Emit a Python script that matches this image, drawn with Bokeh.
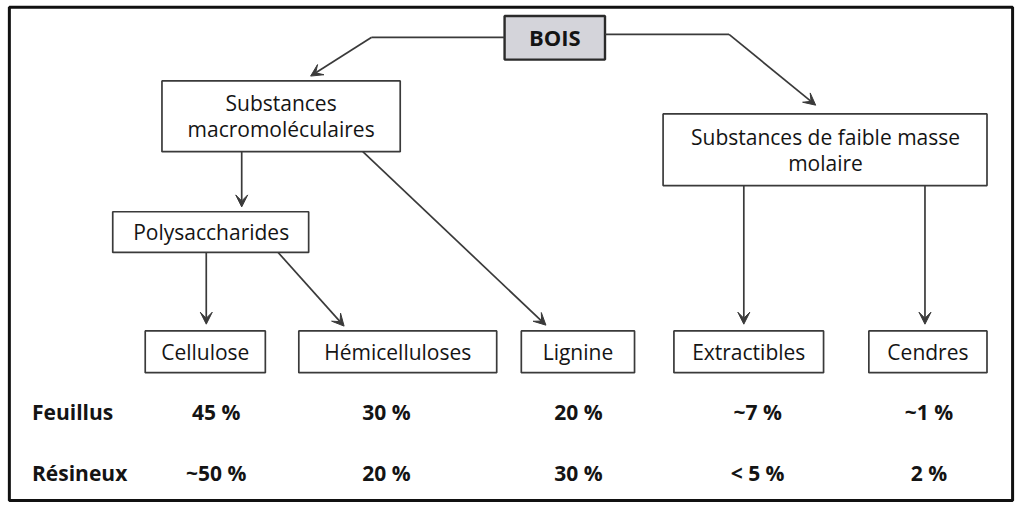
from bokeh.plotting import figure
from bokeh.models import Range1d, Arrow, VeeHead
from bokeh.core.properties import value
from bokeh.embed import file_html
from bokeh.resources import INLINE

# ---- data (diagram content) ----
root_label = "BOIS"
level1_labels = ["Substances\nmacromoléculaires", "Substances de faible masse\nmolaire"]
poly_label = "Polysaccharides"
components = ["Cellulose", "Hémicelluloses", "Lignine", "Extractibles", "Cendres"]
row_labels = ["Feuillus", "Résineux"]
feuillus = ["45 %", "30 %", "20 %", "~7 %", "~1 %"]
resineux = ["~50 %", "20 %", "30 %", "< 5 %", "2 %"]

# ---- layout (reference pixel coordinates) ----
W, H = 1018, 502
p = figure(width=W, height=H, output_backend="svg", toolbar_location=None,
           x_range=Range1d(0, 1034), y_range=Range1d(518, 0),
           min_border=0, background_fill_color="white", border_fill_color="white")
p.axis.visible = False
p.grid.visible = False
p.outline_line_color = None

FONT = value("Open Sans")
LC = "#3a3a3a"
TC = "#141414"

def box(l, r, t, b, fill="white", lw=1.7, lc=LC):
    p.quad(left=[l], right=[r], top=[t], bottom=[b], fill_color=fill,
           line_color=lc, line_width=lw)

def label(x, y, txt, size="21px", bold=False, align="center", gap=27):
    lines = txt.split("\n")
    n = len(lines)
    for i, ln in enumerate(lines):
        yy = y + (i - (n - 1) / 2) * gap
        p.text(x=[x], y=[yy], text=[ln], text_font=FONT, text_font_size=size,
               text_font_style="bold" if bold else "normal", text_color=TC,
               text_align=align, text_baseline="middle")

def seg(x0, y0, x1, y1):
    p.segment(x0=[x0], y0=[y0], x1=[x1], y1=[y1], line_color=LC, line_width=1.7)

def arrow(x0, y0, x1, y1):
    p.add_layout(Arrow(x_start=x0, y_start=y0, x_end=x1, y_end=y1,
                       line_color=LC, line_width=1.7,
                       end=VeeHead(size=12, line_color=LC, fill_color=LC, line_width=1)))

# outer frame
box(9, 1028, 7, 516, fill=None, lw=3, lc="#111111")

# root box
box(512, 614, 16, 61, fill="#d4d4da", lw=2.4, lc="#2a2a2a")
label(563, 38, root_label, size="22px", bold=True)

# root connectors
seg(512, 38, 377, 38)
arrow(377, 38, 315, 78)
seg(614, 35, 740, 35)
arrow(740, 35, 828, 108)

# level-1 boxes
box(164, 406, 83, 156)
label(285, 119, level1_labels[0])
box(673, 1002, 117, 191)
label(838, 154, level1_labels[1])

# polysaccharides
arrow(245, 156, 245, 213)
box(114, 313, 218, 260)
label(214, 239, poly_label)

# component boxes
comp_l = [147, 303, 529, 684, 882]
comp_r = [269, 504, 644, 836, 1002]
top_, bot_ = 341, 384
for l, r, name in zip(comp_l, comp_r, components):
    box(l, r, top_, bot_)
    label((l + r) / 2, 363, name)

# component arrows
arrow(209, 260, 209, 334)
arrow(282, 260, 349, 336)
arrow(368, 156, 554, 335)
arrow(755, 191, 755, 334)
arrow(939, 191, 939, 334)

# values rows
val_x = [219, 392, 587, 769, 943]
row_y = [425, 488]
for ry, rl, vals in zip(row_y, row_labels, [feuillus, resineux]):
    label(32, ry, rl, size="21px", bold=True, align="left")
    for x, v in zip(val_x, vals):
        label(x, ry, v, size="21px", bold=True)

open("out.html", "w").write(file_html(p, INLINE))
